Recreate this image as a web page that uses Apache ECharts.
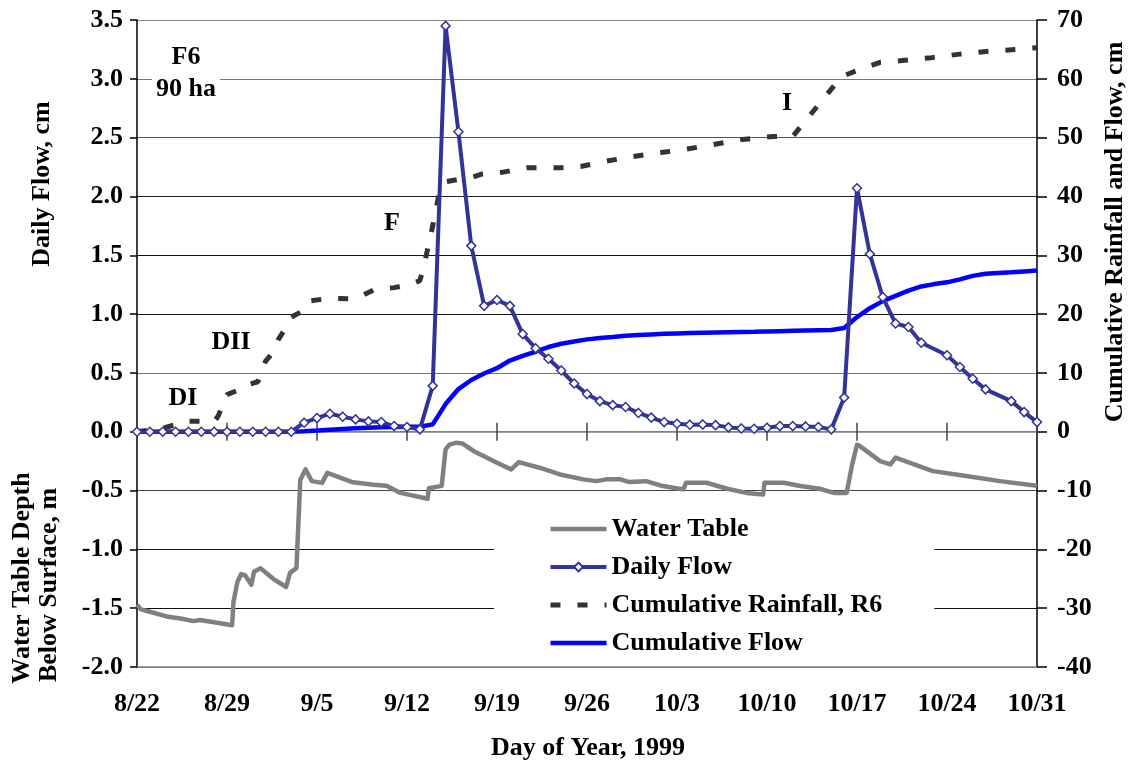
<!DOCTYPE html>
<html>
<head>
<meta charset="utf-8">
<script src="https://cdn.jsdelivr.net/npm/echarts@6/dist/echarts.min.js"></script>
<style>
html,body{margin:0;padding:0;background:#fff;}
#chart{width:1131px;height:766px;}
</style>
</head>
<body>
<div id="chart"></div>
<script>
// ---- Data ----
const dateLabels = ['8/22','8/29','9/5','9/12','9/19','9/26','10/3','10/10','10/17','10/24','10/31'];

// Daily flow (cm), one value per day starting 8/22 (null = no marker recorded)
const dailyFlow = [0,0,0,0,0,0,0,0,0,0,0,0,0,
  0.077,0.116,0.153,0.128,0.105,0.088,0.082,0.048,0.04,0.02,
  0.39,3.45,2.55,1.58,1.07,1.12,1.07,0.83,0.71,0.62,0.52,0.41,0.32,0.26,0.226,0.21,0.16,0.12,
  0.082,0.068,0.06,0.062,0.056,0.037,0.028,0.025,0.034,0.048,0.048,0.045,0.04,0.02,
  0.29,2.07,1.51,1.145,0.92,0.89,0.757,null,0.65,0.55,0.45,0.36,null,0.26,0.167,0.082];

// Cumulative flow (cm), one value per day starting 8/22
const cumFlow = [0,0,0,0,0,0,0,0,0,0,0,0,0,
  0.08,0.19,0.35,0.47,0.58,0.67,0.75,0.80,0.84,0.86,
  1.25,4.7,7.25,8.8,9.9,10.8,12.1,12.9,13.6,14.4,14.95,15.35,15.7,15.95,16.1,16.3,16.45,16.55,
  16.65,16.72,16.78,16.83,16.88,16.92,16.96,17.0,17.05,17.1,17.15,17.2,17.25,17.3,
  17.65,19.5,21.0,22.2,23.1,24.0,24.7,25.1,25.4,25.9,26.5,26.85,27.0,27.1,27.25,27.4];

// Cumulative rainfall R6 (cm): day offset from 8/22, value
const rainDay = [0,1,2,3,3.6,6,6.3,7,7.8,8,9.4,10,10.6,11,11.6,12,12.7,13.3,15,16.5,17,18.5,20,21.2,22,22.3,23,23.5,24,25,26,26.8,28.4,30.3,33,34.5,36.5,38.6,40.9,42.6,44.8,47.1,49.5,51,54.8,56.5,57.8,59.5,61.8,64,66.3,68.5,70];
const rainCm  = [0,0.3,0.6,1.2,1.8,1.8,2.6,6.3,7.0,7.6,8.5,12.0,13.5,15.7,17.8,19.5,20.3,22.2,22.7,22.6,22.6,24.2,24.5,25.0,25.7,28.0,35.0,40.5,42.5,42.9,43.2,43.8,44.1,44.9,44.9,45.1,46.0,46.8,47.5,48.0,48.8,49.7,50.2,50.2,60.4,61.8,62.8,63.1,63.6,64.2,64.7,65.0,65.3];

// Water table depth below surface (m): day offset from 8/22, value
const wtDay = [0,0.3,1,2.3,3.5,4.4,4.9,6,7.4,7.5,7.8,8.1,8.4,8.9,9.1,9.6,10.6,11.6,11.9,12.4,12.5,12.7,13.1,13.6,14.4,14.8,16.8,18.4,19.4,20.5,22.6,22.7,23.7,24,24.3,24.8,25.3,26.2,28,29.1,29.7,31.3,32.9,34.7,35.7,36.5,37.6,38.3,39.6,40.9,42.5,42.7,44.3,45.9,47.4,48.7,48.8,50.3,51.6,53.1,54.2,55.2,55.6,56,56.2,57.8,58.6,59,61.9,64.5,67.1,70];
const wtDepth = [-1.47,-1.51,-1.53,-1.57,-1.59,-1.61,-1.60,-1.62,-1.645,-1.45,-1.28,-1.21,-1.22,-1.30,-1.19,-1.16,-1.25,-1.32,-1.20,-1.16,-1.15,-0.41,-0.32,-0.42,-0.435,-0.35,-0.43,-0.45,-0.46,-0.52,-0.57,-0.48,-0.46,-0.15,-0.11,-0.094,-0.10,-0.165,-0.264,-0.32,-0.258,-0.306,-0.363,-0.405,-0.42,-0.405,-0.405,-0.428,-0.42,-0.462,-0.49,-0.434,-0.434,-0.485,-0.52,-0.533,-0.434,-0.434,-0.462,-0.485,-0.52,-0.52,-0.29,-0.11,-0.12,-0.25,-0.278,-0.22,-0.335,-0.377,-0.42,-0.46];

// ---- Chart ----
const FONT = '"Liberation Serif","Times New Roman",serif';
const txt = {fontFamily: FONT, fontWeight: 'bold', fontSize: 26, color: '#000'};
const RAIN_DASH = [10, 17];

const pairs = (xs, ys) => ys.map((v, i) => [xs[i], v]);
const dayIdx = dailyFlow.map((_, i) => i);

const chart = echarts.init(document.getElementById('chart'), null, {renderer: 'canvas'});

function label(text, x, y, rot, extra) {
  return {
    type: 'text', x: x, y: y, rotation: rot || 0, z: 100,
    style: Object.assign({text: text, align: 'center', verticalAlign: 'middle',
      font: 'bold 26px ' + FONT, fill: '#000'}, extra || {})
  };
}

const hiddenSym = {opacity: 0, borderWidth: 0};

const option = {
  animation: false,
  backgroundColor: '#fff',
  grid: {left: 137, right: 94, top: 20, bottom: 99, containLabel: false},
  legend: {
    data: [
      {name: 'Water Table', itemStyle: hiddenSym, lineStyle: {width: 4.5}},
      {name: 'Daily Flow', lineStyle: {width: 4}},
      {name: 'Cumulative Rainfall, R6', itemStyle: hiddenSym, lineStyle: {width: 5}},
      {name: 'Cumulative Flow', itemStyle: hiddenSym, lineStyle: {width: 4.5}}
    ],
    orient: 'vertical', left: 494, top: 506,
    padding: [10, 52, 5, 54],
    itemWidth: 56, itemHeight: 11, itemGap: 12,
    backgroundColor: '#fff',
    selectedMode: false,
    textStyle: Object.assign({lineHeight: 26}, txt)
  },
  xAxis: [
    { type: 'value', min: 0, max: 70, interval: 7, position: 'bottom',
      axisLine: {show: true, onZero: true, onZeroAxisIndex: 0, lineStyle: {color: '#808080', width: 1.5}},
      axisTick: {show: true, inside: false, length: 9, lineStyle: {color: '#444', width: 1.5}},
      axisLabel: {show: false}, splitLine: {show: false} },
    { type: 'value', min: 0, max: 70, interval: 7, position: 'bottom',
      axisLine: {show: false, onZero: true, onZeroAxisIndex: 0},
      axisTick: {show: true, inside: true, length: 9, lineStyle: {color: '#444', width: 1.5}},
      axisLabel: {show: false}, splitLine: {show: false} },
    { type: 'value', min: 0, max: 70, interval: 7, position: 'bottom',
      axisLine: {show: true, onZero: false, lineStyle: {color: '#808080', width: 1.5}},
      axisTick: {show: false},
      axisLabel: Object.assign({show: true, margin: 24,
        formatter: v => dateLabels[Math.round(v / 7)] || ''}, txt),
      splitLine: {show: false} }
  ],
  yAxis: [
    { type: 'value', min: -2, max: 3.5, interval: 0.5, position: 'left',
      axisLine: {show: true, onZero: false, lineStyle: {color: '#000', width: 1.5}},
      axisTick: {show: true, inside: false, length: 7, lineStyle: {color: '#000', width: 1.5}},
      axisLabel: Object.assign({margin: 14, formatter: v => v.toFixed(1)}, txt),
      splitLine: {show: true, lineStyle: {width: 1.2,
        color: ['#888','#111','#111','#444','#888','#777','#111','#111','#222','#555','#777','#888']}} },
    { type: 'value', min: -40, max: 70, interval: 10, position: 'right',
      axisLine: {show: true, onZero: false, lineStyle: {color: '#000', width: 1.5}},
      axisTick: {show: true, inside: false, length: 10, lineStyle: {color: '#000', width: 1.5}},
      axisLabel: Object.assign({margin: 20, formatter: v => String(v)}, txt),
      splitLine: {show: false} }
  ],
  series: [
    { name: 'Water Table', type: 'line', xAxisIndex: 0, yAxisIndex: 0,
      data: pairs(wtDay, wtDepth), symbol: 'none', showSymbol: false, z: 2,
      lineStyle: {color: '#808080', width: 4.5, join: 'round'}, itemStyle: {color: '#808080'} },
    { name: 'Daily Flow', type: 'line', xAxisIndex: 0, yAxisIndex: 0,
      data: pairs(dayIdx, dailyFlow), connectNulls: true,
      symbol: 'diamond', symbolSize: 9, showSymbol: true, z: 6,
      lineStyle: {color: '#333399', width: 4},
      itemStyle: {color: '#ffffff', borderColor: '#333399', borderWidth: 1.5} },
    { name: 'Cumulative Rainfall, R6', type: 'line', xAxisIndex: 0, yAxisIndex: 1,
      data: pairs(rainDay, rainCm), symbol: 'none', showSymbol: false, z: 4,
      lineStyle: {color: '#333333', width: 5, type: RAIN_DASH, cap: 'butt'},
      itemStyle: {color: '#333333'} },
    { name: 'Cumulative Flow', type: 'line', xAxisIndex: 0, yAxisIndex: 1,
      data: pairs(dayIdx, cumFlow), symbol: 'none', showSymbol: false, z: 5,
      lineStyle: {color: '#0000ff', width: 4.5}, itemStyle: {color: '#0000ff'} }
  ],
  graphic: [
    label('F6', 186, 57),
    label('90 ha', 186, 89, 0, {backgroundColor: '#fff', padding: [0, 4]}),
    label('F', 392, 223),
    label('I', 787, 103),
    label('DII', 231, 342),
    label('DI', 183, 398),
    label('Daily Flow, cm', 42, 184, Math.PI / 2),
    label('Water Table Depth', 22, 578, Math.PI / 2),
    label('Below Surface, m', 49, 585, Math.PI / 2),
    label('Cumulative Rainfall and Flow, cm', 1115, 232, Math.PI / 2),
    label('Day of Year, 1999', 588, 748)
  ]
};
chart.setOption(option);
</script>
</body>
</html>
